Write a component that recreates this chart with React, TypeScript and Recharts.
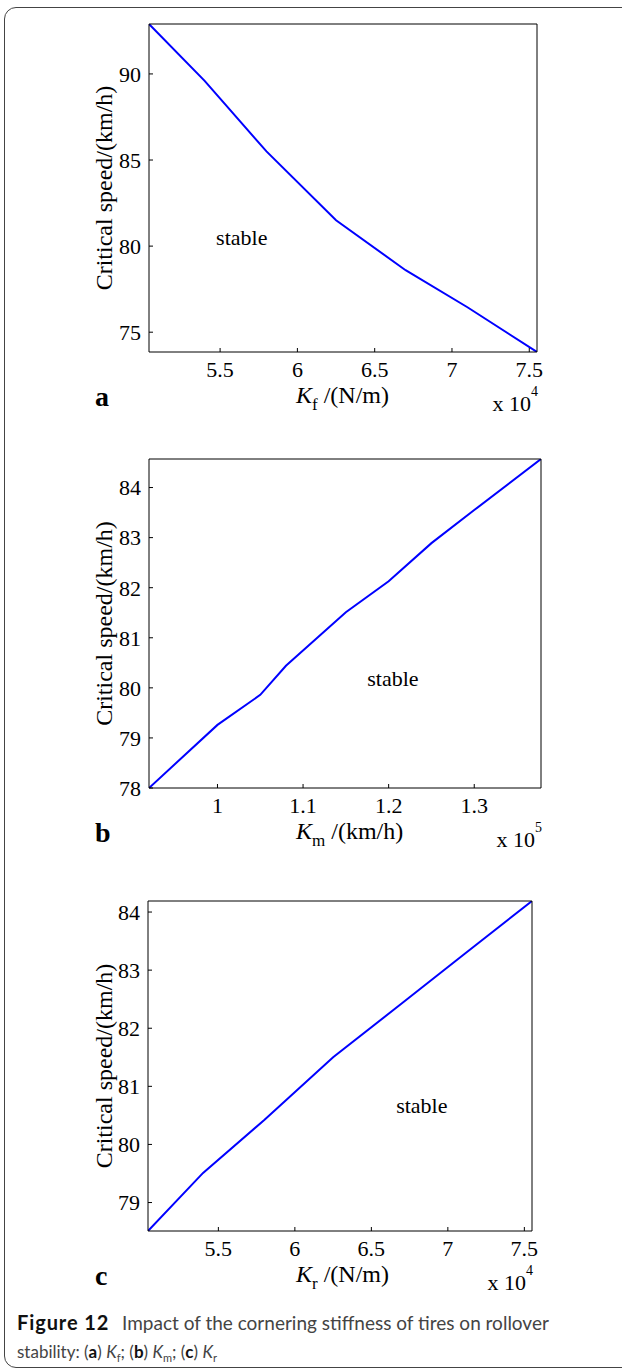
import React from 'react';
import { LineChart, Line, XAxis, YAxis, ReferenceDot, Label } from 'recharts';

// (a) front tire cornering stiffness Kf (x 10^4 N/m) vs critical speed (km/h)
const kfStiffness = [5.04, 5.4, 5.8, 6.25, 6.7, 7.1, 7.55];
const kfSpeed = [92.9, 89.6, 85.5, 81.5, 78.6, 76.45, 73.85];
const kfXTicks = [5.5, 6, 6.5, 7, 7.5];
const kfYTicks = [75, 80, 85, 90];

// (b) middle tire cornering stiffness Km (x 10^5)
const kmStiffness = [0.92, 1.0, 1.05, 1.08, 1.15, 1.2, 1.25, 1.3, 1.378];
const kmSpeed = [78.0, 79.26, 79.86, 80.44, 81.51, 82.13, 82.89, 83.55, 84.57];
const kmXTicks = [1, 1.1, 1.2, 1.3];
const kmYTicks = [78, 79, 80, 81, 82, 83, 84];

// (c) rear tire cornering stiffness Kr (x 10^4 N/m)
const krStiffness = [5.04, 5.4, 5.8, 6.25, 6.7, 7.1, 7.55];
const krSpeed = [78.51, 79.51, 80.42, 81.5, 82.43, 83.26, 84.19];
const krXTicks = [5.5, 6, 6.5, 7, 7.5];
const krYTicks = [79, 80, 81, 82, 83, 84];

const SERIF = '"Liberation Serif", "Times New Roman", serif';
const SANS = 'Lato, "Noto Sans", sans-serif';
const W = 622;
const BOTTOM_AXIS = 72;

interface PanelProps {
  top: number;
  left: number;
  right: number;
  plotHeight: number;
  xs: number[];
  ys: number[];
  xDomain: [number, number];
  yDomain: [number, number];
  xTicks: number[];
  yTicks: number[];
  letter: string;
  sub: string;
  unit: string;
  exponent: string;
  stable: [number, number];
}

const Panel: React.FC<PanelProps> = (p) => {
  const data = p.xs.map((k, i) => ({ k, speed: p.ys[i] }));
  const plotTop = 24;
  const plotBottom = plotTop + p.plotHeight;
  const tickStyle = { fill: '#000', fontSize: 22, fontFamily: SERIF };

  const xLabel = () => (
    <g fontFamily={SERIF} fill="#000">
      <text x={95} y={plotBottom + 54} fontSize={28} fontWeight={700}>
        {p.letter}
      </text>
      <text x={296} y={plotBottom + 51} fontSize={24}>
        <tspan fontStyle="italic">K</tspan>
        <tspan fontSize={17} dy={7}>{p.sub}</tspan>
        <tspan dy={-7}>{' /(' + p.unit + ')'}</tspan>
      </text>
      <text x={p.right + 1} y={plotBottom + 59} fontSize={22} textAnchor="end">
        x 10<tspan fontSize={14} dy={-15}>{p.exponent}</tspan>
      </text>
    </g>
  );

  const yLabel = () => {
    const cy = plotTop + p.plotHeight / 2;
    return (
      <text
        x={104}
        y={cy}
        fontSize={24}
        fontFamily={SERIF}
        fill="#000"
        textAnchor="middle"
        dominantBaseline="central"
        transform={`rotate(-90, 104, ${cy})`}
      >
        Critical speed/(km/h)
      </text>
    );
  };

  return (
    <div style={{ position: 'absolute', left: 0, top: p.top - plotTop }}>
      <LineChart
        width={W}
        height={plotBottom + BOTTOM_AXIS}
        data={data}
        margin={{ top: plotTop - 1, right: W - p.right - 1, bottom: 0, left: 0 }}
      >
        <XAxis
          dataKey="k"
          type="number"
          domain={p.xDomain}
          allowDataOverflow
          ticks={p.xTicks}
          interval={0}
          tickSize={-4}
          tickMargin={13}
          tick={tickStyle}
          stroke="#000"
          height={BOTTOM_AXIS}
        >
          <Label content={xLabel} />
        </XAxis>
        <XAxis
          xAxisId="top"
          orientation="top"
          dataKey="k"
          type="number"
          domain={p.xDomain}
          allowDataOverflow
          ticks={p.xTicks}
          interval={0}
          tickSize={-4}
          tick={false}
          stroke="#000"
          height={1}
        />
        <YAxis
          type="number"
          domain={p.yDomain}
          allowDataOverflow
          ticks={p.yTicks}
          interval={0}
          tickSize={-4}
          tickMargin={12}
          tick={tickStyle}
          stroke="#000"
          width={p.left}
        >
          <Label content={yLabel} />
        </YAxis>
        <YAxis
          yAxisId="right"
          orientation="right"
          type="number"
          domain={p.yDomain}
          allowDataOverflow
          ticks={p.yTicks}
          interval={0}
          tickSize={-4}
          tick={false}
          stroke="#000"
          width={1}
        />
        <ReferenceDot
          x={p.stable[0]}
          y={p.stable[1]}
          r={0}
          fill="none"
          stroke="none"
          ifOverflow="visible"
        >
          <Label value="stable" position="center" fill="#000" fontSize={22} fontFamily={SERIF} />
        </ReferenceDot>
        <Line
          dataKey="speed"
          type="linear"
          stroke="#0000ff"
          strokeWidth={2}
          dot={false}
          isAnimationActive={false}
        />
      </LineChart>
    </div>
  );
};

const App: React.FC = () => {
  return (
    <div
      style={{
        position: 'absolute',
        left: 0,
        top: 0,
        width: W,
        height: 1369,
        background: '#fff',
        overflow: 'hidden',
      }}
    >
      <div
        style={{
          position: 'absolute',
          left: 4,
          top: 7,
          width: 650,
          height: 1361,
          border: '1px solid #444',
          borderRadius: 12,
          boxSizing: 'border-box',
        }}
      />
      <Panel
        top={24}
        left={149}
        right={537}
        plotHeight={328}
        xs={kfStiffness}
        ys={kfSpeed}
        xDomain={[5.04, 7.55]}
        yDomain={[73.85, 92.9]}
        xTicks={kfXTicks}
        yTicks={kfYTicks}
        letter="a"
        sub="f"
        unit="N/m"
        exponent="4"
        stable={[5.64, 80.5]}
      />
      <Panel
        top={459}
        left={149}
        right={541}
        plotHeight={329}
        xs={kmStiffness}
        ys={kmSpeed}
        xDomain={[0.92, 1.378]}
        yDomain={[78, 84.57]}
        xTicks={kmXTicks}
        yTicks={kmYTicks}
        letter="b"
        sub="m"
        unit="km/h"
        exponent="5"
        stable={[1.205, 80.2]}
      />
      <Panel
        top={901}
        left={148}
        right={532}
        plotHeight={330}
        xs={krStiffness}
        ys={krSpeed}
        xDomain={[5.04, 7.55]}
        yDomain={[78.51, 84.19]}
        xTicks={krXTicks}
        yTicks={krYTicks}
        letter="c"
        sub="r"
        unit="N/m"
        exponent="4"
        stable={[6.83, 80.68]}
      />
      <svg
        width={W}
        height={70}
        style={{ position: 'absolute', left: 0, top: 1299 }}
        fontFamily={SANS}
      >
        <text x={17} y={31}>
          <tspan fontWeight={700} fill="#111" fontSize={20} letterSpacing={0.9}>Figure 12</tspan>
          <tspan x={122} fill="#444" fontSize={19}>Impact of the cornering stiffness of tires on rollover</tspan>
        </text>
        <text x={17} y={59} fill="#444" fontSize={17}>
          stability: (<tspan fontWeight={700} fill="#111">a</tspan>){' '}
          <tspan fontStyle="italic">K</tspan>
          <tspan fontSize={11} dy={4}>f</tspan>
          <tspan dy={-4}>; (</tspan>
          <tspan fontWeight={700} fill="#111">b</tspan>){' '}
          <tspan fontStyle="italic">K</tspan>
          <tspan fontSize={11} dy={4}>m</tspan>
          <tspan dy={-4}>; (</tspan>
          <tspan fontWeight={700} fill="#111">c</tspan>){' '}
          <tspan fontStyle="italic">K</tspan>
          <tspan fontSize={11} dy={4}>r</tspan>
        </text>
      </svg>
    </div>
  );
};

export default App;
